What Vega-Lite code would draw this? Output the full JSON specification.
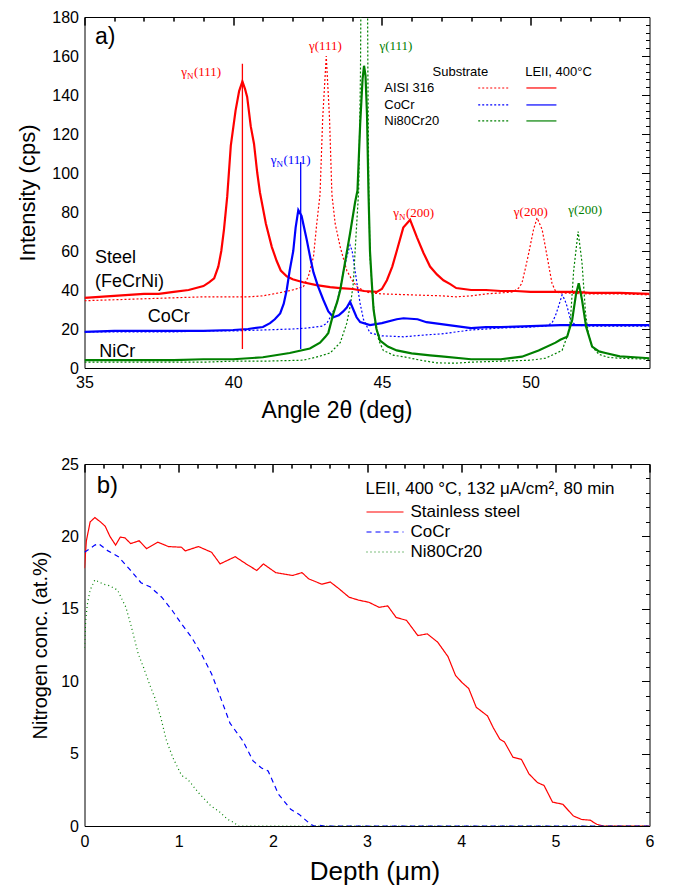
{
"$schema": "https://vega.github.io/schema/vega-lite/v6.json",
"background": "white",
"padding": {"left": 15.5, "top": 8, "right": 5, "bottom": 3},
"spacing": 32,
"config": {
 "font": "Liberation Sans",
 "view": {"stroke": "#000", "strokeWidth": 1},
 "axis": {"grid": false, "domain": false, "labelFont": "Liberation Sans", "titleFont": "Liberation Sans", "labelColor": "#000", "titleColor": "#000", "tickColor": "#000", "tickWidth": 1, "titleFontWeight": "normal", "labelFlush": false}
},
"datasets": {
 "asub": [
  {"m":"AISI 316","t":35,"i":34.5},{"m":"AISI 316","t":36,"i":35},{"m":"AISI 316","t":37,"i":35.5},{"m":"AISI 316","t":38,"i":36},{"m":"AISI 316","t":39,"i":36.5},{"m":"AISI 316","t":40,"i":36.5},{"m":"AISI 316","t":40.5,"i":36.5},{"m":"AISI 316","t":41,"i":37},{"m":"AISI 316","t":41.7,"i":39},{"m":"AISI 316","t":42,"i":40},{"m":"AISI 316","t":42.36,"i":41.7},{"m":"AISI 316","t":42.53,"i":47},{"m":"AISI 316","t":42.7,"i":57},{"m":"AISI 316","t":42.81,"i":74},{"m":"AISI 316","t":42.92,"i":89},{"m":"AISI 316","t":43.01,"i":128},{"m":"AISI 316","t":43.13,"i":160},{"m":"AISI 316","t":43.24,"i":128},{"m":"AISI 316","t":43.32,"i":89},{"m":"AISI 316","t":43.43,"i":74},{"m":"AISI 316","t":43.6,"i":62},{"m":"AISI 316","t":43.82,"i":50},{"m":"AISI 316","t":44.0,"i":45},{"m":"AISI 316","t":44.16,"i":41.7},{"m":"AISI 316","t":44.4,"i":39.5},{"m":"AISI 316","t":44.6,"i":38.5},{"m":"AISI 316","t":45,"i":38},{"m":"AISI 316","t":46,"i":37.5},{"m":"AISI 316","t":47,"i":37},{"m":"AISI 316","t":47.5,"i":36.5},{"m":"AISI 316","t":48,"i":37},{"m":"AISI 316","t":48.5,"i":38},{"m":"AISI 316","t":49,"i":38.5},{"m":"AISI 316","t":49.4,"i":39},{"m":"AISI 316","t":49.6,"i":41},{"m":"AISI 316","t":49.71,"i":43.5},{"m":"AISI 316","t":49.84,"i":52},{"m":"AISI 316","t":49.94,"i":59},{"m":"AISI 316","t":50.1,"i":71},{"m":"AISI 316","t":50.22,"i":77},{"m":"AISI 316","t":50.39,"i":71},{"m":"AISI 316","t":50.56,"i":57},{"m":"AISI 316","t":50.72,"i":43.5},{"m":"AISI 316","t":50.85,"i":39},{"m":"AISI 316","t":51,"i":38.5},{"m":"AISI 316","t":52,"i":38},{"m":"AISI 316","t":53,"i":38},{"m":"AISI 316","t":54,"i":37.5},
  {"m":"CoCr","t":35,"i":18.5},{"m":"CoCr","t":36,"i":18.5},{"m":"CoCr","t":37,"i":18.5},{"m":"CoCr","t":38,"i":18.5},{"m":"CoCr","t":39,"i":19},{"m":"CoCr","t":40,"i":19},{"m":"CoCr","t":41,"i":19.5},{"m":"CoCr","t":42,"i":20},{"m":"CoCr","t":42.5,"i":20.5},{"m":"CoCr","t":43,"i":21.5},{"m":"CoCr","t":43.15,"i":23},{"m":"CoCr","t":43.3,"i":27},{"m":"CoCr","t":43.48,"i":33},{"m":"CoCr","t":43.6,"i":41},{"m":"CoCr","t":43.7,"i":49},{"m":"CoCr","t":43.82,"i":57},{"m":"CoCr","t":43.93,"i":63},{"m":"CoCr","t":44.0,"i":60},{"m":"CoCr","t":44.08,"i":52},{"m":"CoCr","t":44.16,"i":43.5},{"m":"CoCr","t":44.27,"i":33},{"m":"CoCr","t":44.38,"i":25},{"m":"CoCr","t":44.6,"i":18},{"m":"CoCr","t":45,"i":16.5},{"m":"CoCr","t":45.73,"i":16},{"m":"CoCr","t":46.5,"i":17},{"m":"CoCr","t":47,"i":17.5},{"m":"CoCr","t":48,"i":19.5},{"m":"CoCr","t":49,"i":20.5},{"m":"CoCr","t":50,"i":21},{"m":"CoCr","t":50.5,"i":21.5},{"m":"CoCr","t":50.72,"i":23},{"m":"CoCr","t":50.84,"i":27},{"m":"CoCr","t":50.95,"i":32},{"m":"CoCr","t":51.06,"i":37.5},{"m":"CoCr","t":51.15,"i":35},{"m":"CoCr","t":51.23,"i":31.5},{"m":"CoCr","t":51.34,"i":25},{"m":"CoCr","t":51.5,"i":22},{"m":"CoCr","t":52,"i":21.5},{"m":"CoCr","t":53,"i":21.5},{"m":"CoCr","t":54,"i":21.5},
  {"m":"Ni80Cr20","t":35,"i":3},{"m":"Ni80Cr20","t":36,"i":3},{"m":"Ni80Cr20","t":37,"i":3},{"m":"Ni80Cr20","t":38,"i":3},{"m":"Ni80Cr20","t":39,"i":3},{"m":"Ni80Cr20","t":40,"i":3.5},{"m":"Ni80Cr20","t":41,"i":3.5},{"m":"Ni80Cr20","t":42.36,"i":4},{"m":"Ni80Cr20","t":42.9,"i":6},{"m":"Ni80Cr20","t":43.26,"i":7.7},{"m":"Ni80Cr20","t":43.6,"i":13},{"m":"Ni80Cr20","t":43.82,"i":23},{"m":"Ni80Cr20","t":43.95,"i":33},{"m":"Ni80Cr20","t":44.04,"i":43.5},{"m":"Ni80Cr20","t":44.1,"i":60},{"m":"Ni80Cr20","t":44.22,"i":91},{"m":"Ni80Cr20","t":44.28,"i":150},{"m":"Ni80Cr20","t":44.32,"i":250},{"m":"Ni80Cr20","t":44.41,"i":400},{"m":"Ni80Cr20","t":44.5,"i":250},{"m":"Ni80Cr20","t":44.53,"i":150},{"m":"Ni80Cr20","t":44.56,"i":91},{"m":"Ni80Cr20","t":44.6,"i":57},{"m":"Ni80Cr20","t":44.68,"i":40},{"m":"Ni80Cr20","t":44.77,"i":23},{"m":"Ni80Cr20","t":44.9,"i":14},{"m":"Ni80Cr20","t":45.05,"i":9},{"m":"Ni80Cr20","t":45.4,"i":6.5},{"m":"Ni80Cr20","t":45.72,"i":5.8},{"m":"Ni80Cr20","t":46.3,"i":4},{"m":"Ni80Cr20","t":46.85,"i":2.6},{"m":"Ni80Cr20","t":47.5,"i":2.5},{"m":"Ni80Cr20","t":48,"i":3},{"m":"Ni80Cr20","t":49,"i":3.5},{"m":"Ni80Cr20","t":50,"i":4},{"m":"Ni80Cr20","t":50.5,"i":5},{"m":"Ni80Cr20","t":51.06,"i":9},{"m":"Ni80Cr20","t":51.25,"i":17},{"m":"Ni80Cr20","t":51.34,"i":24.6},{"m":"Ni80Cr20","t":51.45,"i":50},{"m":"Ni80Cr20","t":51.6,"i":70},{"m":"Ni80Cr20","t":51.73,"i":54},{"m":"Ni80Cr20","t":51.85,"i":28},{"m":"Ni80Cr20","t":51.95,"i":17},{"m":"Ni80Cr20","t":52.07,"i":11},{"m":"Ni80Cr20","t":52.3,"i":7},{"m":"Ni80Cr20","t":52.6,"i":5.5},{"m":"Ni80Cr20","t":53,"i":5},{"m":"Ni80Cr20","t":54,"i":4.5}
 ],
 "aleii": [
  {"m":"AISI 316","t":35,"i":36},{"m":"AISI 316","t":35.5,"i":36.5},{"m":"AISI 316","t":36,"i":37},{"m":"AISI 316","t":36.5,"i":37.5},{"m":"AISI 316","t":37,"i":38},{"m":"AISI 316","t":37.5,"i":38},{"m":"AISI 316","t":38,"i":39},{"m":"AISI 316","t":38.5,"i":40},{"m":"AISI 316","t":39,"i":42},{"m":"AISI 316","t":39.2,"i":44},{"m":"AISI 316","t":39.36,"i":46},{"m":"AISI 316","t":39.5,"i":52},{"m":"AISI 316","t":39.6,"i":60},{"m":"AISI 316","t":39.69,"i":71},{"m":"AISI 316","t":39.8,"i":88},{"m":"AISI 316","t":39.92,"i":114},{"m":"AISI 316","t":40.08,"i":132},{"m":"AISI 316","t":40.2,"i":142},{"m":"AISI 316","t":40.31,"i":147},{"m":"AISI 316","t":40.4,"i":143},{"m":"AISI 316","t":40.47,"i":139},{"m":"AISI 316","t":40.59,"i":124},{"m":"AISI 316","t":40.7,"i":115},{"m":"AISI 316","t":40.81,"i":100},{"m":"AISI 316","t":40.9,"i":90},{"m":"AISI 316","t":41.1,"i":74},{"m":"AISI 316","t":41.3,"i":62},{"m":"AISI 316","t":41.46,"i":55},{"m":"AISI 316","t":41.6,"i":50},{"m":"AISI 316","t":41.8,"i":47},{"m":"AISI 316","t":42.0,"i":45.5},{"m":"AISI 316","t":42.35,"i":44},{"m":"AISI 316","t":42.8,"i":42.5},{"m":"AISI 316","t":43.26,"i":41.5},{"m":"AISI 316","t":43.6,"i":41},{"m":"AISI 316","t":44.03,"i":40.5},{"m":"AISI 316","t":44.4,"i":39.5},{"m":"AISI 316","t":44.83,"i":39},{"m":"AISI 316","t":45.0,"i":40.5},{"m":"AISI 316","t":45.17,"i":45},{"m":"AISI 316","t":45.35,"i":52},{"m":"AISI 316","t":45.5,"i":60},{"m":"AISI 316","t":45.72,"i":72},{"m":"AISI 316","t":45.95,"i":76},{"m":"AISI 316","t":46.18,"i":67},{"m":"AISI 316","t":46.4,"i":59},{"m":"AISI 316","t":46.62,"i":52},{"m":"AISI 316","t":46.85,"i":48},{"m":"AISI 316","t":47.07,"i":45},{"m":"AISI 316","t":47.3,"i":43},{"m":"AISI 316","t":47.5,"i":41},{"m":"AISI 316","t":48,"i":40},{"m":"AISI 316","t":48.5,"i":40},{"m":"AISI 316","t":49,"i":39.5},{"m":"AISI 316","t":49.5,"i":39.5},{"m":"AISI 316","t":50,"i":39},{"m":"AISI 316","t":50.5,"i":39},{"m":"AISI 316","t":51,"i":39},{"m":"AISI 316","t":51.5,"i":39},{"m":"AISI 316","t":52,"i":38.5},{"m":"AISI 316","t":53,"i":38.5},{"m":"AISI 316","t":54,"i":38},
  {"m":"CoCr","t":35,"i":18.5},{"m":"CoCr","t":36,"i":19},{"m":"CoCr","t":37,"i":19},{"m":"CoCr","t":38,"i":19},{"m":"CoCr","t":39,"i":19},{"m":"CoCr","t":40,"i":19.5},{"m":"CoCr","t":40.5,"i":20},{"m":"CoCr","t":41,"i":21},{"m":"CoCr","t":41.24,"i":23},{"m":"CoCr","t":41.4,"i":25},{"m":"CoCr","t":41.58,"i":28},{"m":"CoCr","t":41.7,"i":33},{"m":"CoCr","t":41.8,"i":40},{"m":"CoCr","t":41.9,"i":50},{"m":"CoCr","t":42.02,"i":60},{"m":"CoCr","t":42.1,"i":72},{"m":"CoCr","t":42.19,"i":81},{"m":"CoCr","t":42.3,"i":78},{"m":"CoCr","t":42.47,"i":66},{"m":"CoCr","t":42.6,"i":56},{"m":"CoCr","t":42.7,"i":49},{"m":"CoCr","t":42.85,"i":42},{"m":"CoCr","t":43.03,"i":35},{"m":"CoCr","t":43.2,"i":29},{"m":"CoCr","t":43.37,"i":26},{"m":"CoCr","t":43.55,"i":27},{"m":"CoCr","t":43.7,"i":29},{"m":"CoCr","t":43.82,"i":31},{"m":"CoCr","t":43.93,"i":34},{"m":"CoCr","t":44.04,"i":30},{"m":"CoCr","t":44.15,"i":26},{"m":"CoCr","t":44.27,"i":23.5},{"m":"CoCr","t":44.6,"i":22},{"m":"CoCr","t":45,"i":23},{"m":"CoCr","t":45.5,"i":25},{"m":"CoCr","t":45.73,"i":25.5},{"m":"CoCr","t":46.2,"i":25},{"m":"CoCr","t":46.5,"i":23.5},{"m":"CoCr","t":47,"i":22.5},{"m":"CoCr","t":47.5,"i":21.5},{"m":"CoCr","t":48,"i":20.5},{"m":"CoCr","t":48.5,"i":21},{"m":"CoCr","t":49,"i":21},{"m":"CoCr","t":50,"i":21.5},{"m":"CoCr","t":51,"i":22},{"m":"CoCr","t":52,"i":22},{"m":"CoCr","t":53,"i":22},{"m":"CoCr","t":54,"i":22},
  {"m":"Ni80Cr20","t":35,"i":4},{"m":"Ni80Cr20","t":36,"i":4},{"m":"Ni80Cr20","t":37,"i":4},{"m":"Ni80Cr20","t":38,"i":4},{"m":"Ni80Cr20","t":39,"i":4.5},{"m":"Ni80Cr20","t":40,"i":4.5},{"m":"Ni80Cr20","t":41,"i":5.5},{"m":"Ni80Cr20","t":41.9,"i":7.7},{"m":"Ni80Cr20","t":42.58,"i":10},{"m":"Ni80Cr20","t":42.92,"i":13},{"m":"Ni80Cr20","t":43.1,"i":16},{"m":"Ni80Cr20","t":43.2,"i":18},{"m":"Ni80Cr20","t":43.37,"i":28},{"m":"Ni80Cr20","t":43.5,"i":34},{"m":"Ni80Cr20","t":43.6,"i":40},{"m":"Ni80Cr20","t":43.76,"i":54},{"m":"Ni80Cr20","t":43.93,"i":69},{"m":"Ni80Cr20","t":44.1,"i":85},{"m":"Ni80Cr20","t":44.18,"i":91},{"m":"Ni80Cr20","t":44.27,"i":125},{"m":"Ni80Cr20","t":44.35,"i":148},{"m":"Ni80Cr20","t":44.4,"i":155},{"m":"Ni80Cr20","t":44.45,"i":150},{"m":"Ni80Cr20","t":44.5,"i":130},{"m":"Ni80Cr20","t":44.55,"i":90},{"m":"Ni80Cr20","t":44.6,"i":60},{"m":"Ni80Cr20","t":44.66,"i":44},{"m":"Ni80Cr20","t":44.72,"i":30},{"m":"Ni80Cr20","t":44.82,"i":20},{"m":"Ni80Cr20","t":44.94,"i":14},{"m":"Ni80Cr20","t":45.2,"i":11},{"m":"Ni80Cr20","t":45.5,"i":9},{"m":"Ni80Cr20","t":46,"i":7.5},{"m":"Ni80Cr20","t":46.62,"i":6.5},{"m":"Ni80Cr20","t":47,"i":6},{"m":"Ni80Cr20","t":48,"i":4.5},{"m":"Ni80Cr20","t":49,"i":4.5},{"m":"Ni80Cr20","t":49.71,"i":5.8},{"m":"Ni80Cr20","t":50.27,"i":9},{"m":"Ni80Cr20","t":50.84,"i":13},{"m":"Ni80Cr20","t":51.0,"i":14.5},{"m":"Ni80Cr20","t":51.23,"i":16},{"m":"Ni80Cr20","t":51.4,"i":24.6},{"m":"Ni80Cr20","t":51.53,"i":38},{"m":"Ni80Cr20","t":51.62,"i":43.5},{"m":"Ni80Cr20","t":51.73,"i":35},{"m":"Ni80Cr20","t":51.87,"i":21},{"m":"Ni80Cr20","t":52.07,"i":11},{"m":"Ni80Cr20","t":52.3,"i":8.5},{"m":"Ni80Cr20","t":52.52,"i":7.7},{"m":"Ni80Cr20","t":53,"i":6},{"m":"Ni80Cr20","t":53.5,"i":5.5},{"m":"Ni80Cr20","t":54,"i":5}
 ],
 "arule": [{"m":"AISI 316","t":40.31,"lo":9.7,"hi":156},{"m":"CoCr","t":42.27,"lo":9.7,"hi":105.6}],
 "apeak": [
  {"m":"AISI 316","t":38.68,"i":151.8,"n":"N","hkl":"(111)"},
  {"m":"CoCr","t":41.69,"i":106.5,"n":"N","hkl":"(111)"},
  {"m":"AISI 316","t":45.81,"i":79.6,"n":"N","hkl":"(200)"},
  {"m":"AISI 316","t":42.74,"i":165,"n":"","hkl":"(111)"},
  {"m":"Ni80Cr20","t":45.11,"i":165,"n":"","hkl":"(111)"},
  {"m":"AISI 316","t":49.63,"i":79.8,"n":"","hkl":"(200)"},
  {"m":"Ni80Cr20","t":51.46,"i":81,"n":"","hkl":"(200)"}
 ],
 "anote": [
  {"t":35.35,"i":56.4,"txt":"Steel"},{"t":35.35,"i":44,"txt":"(FeCrNi)"},{"t":37.13,"i":26,"txt":"CoCr"},{"t":35.5,"i":8.2,"txt":"NiCr"}
 ],
 "alegh": [{"t":47.64,"i":151.8,"txt":"Substrate"},{"t":50.94,"i":151.8,"txt":"LEII, 400°C"}],
 "alegn": [{"t":45.08,"i":143.6,"txt":"AISI 316"},{"t":45.08,"i":134.9,"txt":"CoCr"},{"t":45.08,"i":126.7,"txt":"Ni80Cr20"}],
 "alegs": [
  {"m":"AISI 316","k":"sub","t":48.24,"t2":49.25,"i":143.6},{"m":"CoCr","k":"sub","t":48.24,"t2":49.25,"i":134.9},{"m":"Ni80Cr20","k":"sub","t":48.24,"t2":49.25,"i":126.7},
  {"m":"AISI 316","k":"leii","t":49.86,"t2":50.87,"i":143.6},{"m":"CoCr","k":"leii","t":49.86,"t2":50.87,"i":134.9},{"m":"Ni80Cr20","k":"leii","t":49.86,"t2":50.87,"i":126.7}
 ],
 "b": [
  {"s":"Stainless steel","d":0,"n":17.8},{"s":"Stainless steel","d":0.02,"n":19.7},{"s":"Stainless steel","d":0.06,"n":21.0},{"s":"Stainless steel","d":0.11,"n":21.3},{"s":"Stainless steel","d":0.17,"n":21.0},{"s":"Stainless steel","d":0.22,"n":20.7},{"s":"Stainless steel","d":0.27,"n":20.0},{"s":"Stainless steel","d":0.33,"n":19.4},{"s":"Stainless steel","d":0.38,"n":19.95},{"s":"Stainless steel","d":0.43,"n":19.9},{"s":"Stainless steel","d":0.49,"n":19.5},{"s":"Stainless steel","d":0.58,"n":19.7},{"s":"Stainless steel","d":0.66,"n":19.15},{"s":"Stainless steel","d":0.78,"n":19.6},{"s":"Stainless steel","d":0.89,"n":19.3},{"s":"Stainless steel","d":1.03,"n":19.25},{"s":"Stainless steel","d":1.07,"n":19.0},{"s":"Stainless steel","d":1.21,"n":19.3},{"s":"Stainless steel","d":1.35,"n":18.9},{"s":"Stainless steel","d":1.44,"n":18.1},{"s":"Stainless steel","d":1.6,"n":18.6},{"s":"Stainless steel","d":1.74,"n":18.0},{"s":"Stainless steel","d":1.83,"n":17.65},{"s":"Stainless steel","d":1.9,"n":18.1},{"s":"Stainless steel","d":2.03,"n":17.5},{"s":"Stainless steel","d":2.21,"n":17.3},{"s":"Stainless steel","d":2.31,"n":17.5},{"s":"Stainless steel","d":2.38,"n":17.07},{"s":"Stainless steel","d":2.52,"n":16.7},{"s":"Stainless steel","d":2.61,"n":16.85},{"s":"Stainless steel","d":2.7,"n":16.4},{"s":"Stainless steel","d":2.81,"n":15.8},{"s":"Stainless steel","d":2.91,"n":15.6},{"s":"Stainless steel","d":3.02,"n":15.45},{"s":"Stainless steel","d":3.13,"n":15.1},{"s":"Stainless steel","d":3.22,"n":15.2},{"s":"Stainless steel","d":3.31,"n":14.4},{"s":"Stainless steel","d":3.42,"n":14.2},{"s":"Stainless steel","d":3.54,"n":13.15},{"s":"Stainless steel","d":3.64,"n":13.27},{"s":"Stainless steel","d":3.75,"n":12.7},{"s":"Stainless steel","d":3.86,"n":11.7},{"s":"Stainless steel","d":3.94,"n":10.4},{"s":"Stainless steel","d":4.01,"n":9.9},{"s":"Stainless steel","d":4.08,"n":9.5},{"s":"Stainless steel","d":4.16,"n":8.2},{"s":"Stainless steel","d":4.28,"n":7.6},{"s":"Stainless steel","d":4.34,"n":6.8},{"s":"Stainless steel","d":4.41,"n":6.0},{"s":"Stainless steel","d":4.46,"n":5.8},{"s":"Stainless steel","d":4.55,"n":4.75},{"s":"Stainless steel","d":4.64,"n":4.6},{"s":"Stainless steel","d":4.72,"n":3.6},{"s":"Stainless steel","d":4.81,"n":3.0},{"s":"Stainless steel","d":4.88,"n":2.8},{"s":"Stainless steel","d":4.97,"n":1.65},{"s":"Stainless steel","d":5.08,"n":1.5},{"s":"Stainless steel","d":5.19,"n":0.7},{"s":"Stainless steel","d":5.28,"n":0.45},{"s":"Stainless steel","d":5.37,"n":0.4},{"s":"Stainless steel","d":5.44,"n":0.12},{"s":"Stainless steel","d":5.51,"n":0},{"s":"Stainless steel","d":6.0,"n":0},
  {"s":"CoCr","d":0,"n":18.9},{"s":"CoCr","d":0.11,"n":19.4},{"s":"CoCr","d":0.15,"n":19.5},{"s":"CoCr","d":0.25,"n":19.0},{"s":"CoCr","d":0.36,"n":18.6},{"s":"CoCr","d":0.49,"n":17.65},{"s":"CoCr","d":0.6,"n":16.8},{"s":"CoCr","d":0.7,"n":16.5},{"s":"CoCr","d":0.82,"n":15.8},{"s":"CoCr","d":0.93,"n":14.9},{"s":"CoCr","d":1.03,"n":13.96},{"s":"CoCr","d":1.14,"n":13.0},{"s":"CoCr","d":1.24,"n":11.9},{"s":"CoCr","d":1.35,"n":10.5},{"s":"CoCr","d":1.42,"n":9.3},{"s":"CoCr","d":1.545,"n":7.1},{"s":"CoCr","d":1.68,"n":5.9},{"s":"CoCr","d":1.79,"n":4.5},{"s":"CoCr","d":1.88,"n":4.0},{"s":"CoCr","d":1.95,"n":3.8},{"s":"CoCr","d":2.06,"n":2.2},{"s":"CoCr","d":2.19,"n":1.15},{"s":"CoCr","d":2.28,"n":0.8},{"s":"CoCr","d":2.4,"n":0.12},{"s":"CoCr","d":2.44,"n":0},{"s":"CoCr","d":2.5,"n":0.05},{"s":"CoCr","d":2.55,"n":0},{"s":"CoCr","d":6.0,"n":0},
  {"s":"Ni80Cr20","d":0,"n":12.3},{"s":"Ni80Cr20","d":0.013,"n":14.2},{"s":"Ni80Cr20","d":0.03,"n":15.3},{"s":"Ni80Cr20","d":0.06,"n":16.3},{"s":"Ni80Cr20","d":0.11,"n":17.0},{"s":"Ni80Cr20","d":0.2,"n":16.7},{"s":"Ni80Cr20","d":0.26,"n":16.6},{"s":"Ni80Cr20","d":0.35,"n":16.3},{"s":"Ni80Cr20","d":0.44,"n":15.1},{"s":"Ni80Cr20","d":0.5,"n":13.7},{"s":"Ni80Cr20","d":0.57,"n":11.9},{"s":"Ni80Cr20","d":0.63,"n":10.9},{"s":"Ni80Cr20","d":0.69,"n":9.8},{"s":"Ni80Cr20","d":0.75,"n":8.8},{"s":"Ni80Cr20","d":0.81,"n":7.5},{"s":"Ni80Cr20","d":0.87,"n":5.9},{"s":"Ni80Cr20","d":0.94,"n":4.7},{"s":"Ni80Cr20","d":1.03,"n":3.5},{"s":"Ni80Cr20","d":1.1,"n":3.2},{"s":"Ni80Cr20","d":1.21,"n":2.3},{"s":"Ni80Cr20","d":1.34,"n":1.4},{"s":"Ni80Cr20","d":1.43,"n":1.0},{"s":"Ni80Cr20","d":1.52,"n":0.46},{"s":"Ni80Cr20","d":1.59,"n":0.23},{"s":"Ni80Cr20","d":1.63,"n":0},{"s":"Ni80Cr20","d":6.0,"n":0}
 ]
},
"vconcat": [
 {
  "width": 565, "height": 351,
  "resolve": {"axis": {"x": "independent", "y": "independent"}},
  "layer": [
   {"data": {"name": "asub"},
    "mark": {"type": "line", "strokeDash": [2, 2], "strokeWidth": 1.2, "clip": true},
    "encoding": {
     "x": {"field": "t", "type": "quantitative", "scale": {"domain": [35, 54], "nice": false, "zero": false},
       "axis": {"values": [35, 40, 45, 50], "ticks": false, "labelPadding": 6, "labelFontSize": 16, "title": "Angle 2θ (deg)", "titleFontSize": 23, "titlePadding": 9, "titleX": 252}},
     "y": {"field": "i", "type": "quantitative", "scale": {"domain": [0, 180], "nice": false},
       "axis": {"values": [0, 20, 40, 60, 80, 100, 120, 140, 160, 180], "ticks": false, "labelPadding": 6, "labelFontSize": 16, "title": "Intensity (cps)", "titleFontSize": 22, "titlePadding": 12}},
     "color": {"field": "m", "type": "nominal", "scale": {"domain": ["AISI 316", "CoCr", "Ni80Cr20"], "range": ["#ff0000", "#0000ff", "#008000"]}, "legend": null},
     "detail": {"field": "m"}
    }
   },
   {"data": {"name": "aleii"},
    "mark": {"type": "line", "strokeWidth": 2.2, "clip": true},
    "encoding": {
     "x": {"field": "t", "type": "quantitative", "scale": {"domain": [35, 54], "nice": false, "zero": false},
       "axis": {"values": [35, 40, 45, 50], "labels": false, "tickSize": -8, "title": null}},
     "y": {"field": "i", "type": "quantitative", "scale": {"domain": [0, 180], "nice": false},
       "axis": {"values": [0, 20, 40, 60, 80, 100, 120, 140, 160, 180], "labels": false, "tickSize": -8, "title": null}},
     "color": {"field": "m", "type": "nominal", "legend": null}
    }
   },
   {"data": {"name": "arule"},
    "mark": {"type": "rule", "strokeWidth": 1.3},
    "encoding": {
     "x": {"field": "t", "type": "quantitative",
       "axis": {"values": [36, 37, 38, 39, 41, 42, 43, 44, 46, 47, 48, 49, 51, 52, 53], "labels": false, "tickSize": -4, "title": null}},
     "y": {"field": "lo", "type": "quantitative",
       "axis": {"values": [4, 8, 12, 16, 24, 28, 32, 36, 44, 48, 52, 56, 64, 68, 72, 76, 84, 88, 92, 96, 104, 108, 112, 116, 124, 128, 132, 136, 144, 148, 152, 156, 164, 168, 172, 176], "labels": false, "tickSize": -4, "title": null}},
     "y2": {"field": "hi"},
     "color": {"field": "m", "type": "nominal", "legend": null}
    }
   },
   {"data": {"name": "apeak"},
    "mark": {"type": "text", "align": "left", "baseline": "middle", "font": "Liberation Serif", "fontSize": 13},
    "encoding": {
     "x": {"field": "t", "type": "quantitative",
       "axis": {"orient": "top", "values": [35, 40, 45, 50], "labels": false, "tickSize": -8, "title": null}},
     "y": {"field": "i", "type": "quantitative",
       "axis": {"orient": "right", "values": [0, 20, 40, 60, 80, 100, 120, 140, 160, 180], "labels": false, "tickSize": -8, "title": null}},
     "text": {"field": "hkl"},
     "color": {"field": "m", "type": "nominal", "legend": null}
    }
   },
   {"data": {"name": "apeak"},
    "transform": [{"filter": "datum.n == 'N'"}],
    "mark": {"type": "text", "align": "right", "baseline": "middle", "font": "Liberation Serif", "fontSize": 13, "dx": -7},
    "encoding": {
     "x": {"field": "t", "type": "quantitative",
       "axis": {"orient": "top", "values": [36, 37, 38, 39, 41, 42, 43, 44, 46, 47, 48, 49, 51, 52, 53], "labels": false, "tickSize": -4, "title": null}},
     "y": {"field": "i", "type": "quantitative",
       "axis": {"orient": "right", "values": [4, 8, 12, 16, 24, 28, 32, 36, 44, 48, 52, 56, 64, 68, 72, 76, 84, 88, 92, 96, 104, 108, 112, 116, 124, 128, 132, 136, 144, 148, 152, 156, 164, 168, 172, 176], "labels": false, "tickSize": -4, "title": null}},
     "text": {"value": "γ"},
     "color": {"field": "m", "type": "nominal", "legend": null}
    }
   },
   {"data": {"name": "apeak"},
    "transform": [{"filter": "datum.n == 'N'"}],
    "mark": {"type": "text", "align": "right", "baseline": "middle", "font": "Liberation Serif", "fontSize": 9, "dx": -0.5, "dy": 4},
    "encoding": {
     "x": {"field": "t", "type": "quantitative", "axis": null},
     "y": {"field": "i", "type": "quantitative", "axis": null},
     "text": {"value": "N"},
     "color": {"field": "m", "type": "nominal", "legend": null}
    }
   },
   {"data": {"name": "apeak"},
    "transform": [{"filter": "datum.n == ''"}],
    "mark": {"type": "text", "align": "right", "baseline": "middle", "font": "Liberation Serif", "fontSize": 13},
    "encoding": {
     "x": {"field": "t", "type": "quantitative", "axis": null},
     "y": {"field": "i", "type": "quantitative", "axis": null},
     "text": {"value": "γ"},
     "color": {"field": "m", "type": "nominal", "legend": null}
    }
   },
   {"data": {"name": "anote"},
    "mark": {"type": "text", "align": "left", "baseline": "middle", "fontSize": 18, "font": "Liberation Sans", "color": "#000"},
    "encoding": {
     "x": {"field": "t", "type": "quantitative", "axis": null},
     "y": {"field": "i", "type": "quantitative", "axis": null},
     "text": {"field": "txt"}
    }
   },
   {"data": {"values": [{}]},
    "mark": {"type": "text", "align": "left", "baseline": "middle", "fontSize": 23, "font": "Liberation Sans", "color": "#000"},
    "encoding": {
     "x": {"datum": 35.35, "type": "quantitative", "axis": null},
     "y": {"datum": 170, "type": "quantitative", "axis": null},
     "text": {"value": "a)"}
    }
   },
   {"data": {"name": "alegh"},
    "mark": {"type": "text", "align": "center", "baseline": "middle", "fontSize": 13, "font": "Liberation Sans", "color": "#000"},
    "encoding": {
     "x": {"field": "t", "type": "quantitative", "axis": null},
     "y": {"field": "i", "type": "quantitative", "axis": null},
     "text": {"field": "txt"}
    }
   },
   {"data": {"name": "alegn"},
    "mark": {"type": "text", "align": "left", "baseline": "middle", "fontSize": 13, "font": "Liberation Sans", "color": "#000"},
    "encoding": {
     "x": {"field": "t", "type": "quantitative", "axis": null},
     "y": {"field": "i", "type": "quantitative", "axis": null},
     "text": {"field": "txt"}
    }
   },
   {"data": {"name": "alegs"},
    "transform": [{"filter": "datum.k == 'sub'"}],
    "mark": {"type": "rule", "strokeDash": [2, 2], "strokeWidth": 1.2},
    "encoding": {
     "x": {"field": "t", "type": "quantitative", "axis": null},
     "x2": {"field": "t2"},
     "y": {"field": "i", "type": "quantitative", "axis": null},
     "color": {"field": "m", "type": "nominal", "legend": null}
    }
   },
   {"data": {"name": "alegs"},
    "transform": [{"filter": "datum.k == 'leii'"}],
    "mark": {"type": "rule", "strokeWidth": 1.2},
    "encoding": {
     "x": {"field": "t", "type": "quantitative", "axis": null},
     "x2": {"field": "t2"},
     "y": {"field": "i", "type": "quantitative", "axis": null},
     "color": {"field": "m", "type": "nominal", "legend": null}
    }
   }
  ]
 },
 {
  "width": 565, "height": 362,
  "resolve": {"axis": {"x": "independent", "y": "independent"}},
  "layer": [
   {"data": {"name": "b"},
    "mark": {"type": "line", "strokeWidth": 1.2, "clip": true},
    "encoding": {
     "x": {"field": "d", "type": "quantitative", "scale": {"domain": [0, 6], "nice": false},
       "axis": {"values": [0, 1, 2, 3, 4, 5, 6], "ticks": false, "labelPadding": 7, "labelFontSize": 16, "title": "Depth (μm)", "titleFontSize": 26, "titlePadding": 9, "titleX": 290}},
     "y": {"field": "n", "type": "quantitative", "scale": {"domain": [0, 25], "nice": false},
       "axis": {"values": [0, 5, 10, 15, 20, 25], "ticks": false, "labelPadding": 6, "labelFontSize": 16, "title": "Nitrogen conc. (at.%)", "titleFontSize": 20, "titlePadding": 10}},
     "color": {"field": "s", "type": "nominal",
       "scale": {"domain": ["Stainless steel", "CoCr", "Ni80Cr20"], "range": ["#ff0000", "#0000ff", "#008000"]},
       "legend": null},
     "strokeDash": {"field": "s", "type": "nominal", "title": "LEII, 400 °C, 132 μA/cm², 80 min",
       "scale": {"domain": ["Stainless steel", "CoCr", "Ni80Cr20"], "range": [[1, 0], [5, 4], [1, 3]]},
       "legend": {"orient": "none", "legendX": 281, "legendY": 464, "titleFontSize": 17, "titleFontWeight": "normal", "titleFont": "Liberation Sans", "titleColor": "#000", "titleLimit": 400, "labelLimit": 300, "labelFontSize": 17, "labelFont": "Liberation Sans", "labelColor": "#000", "symbolSize": 400, "symbolType": "M-1,0H2.7", "symbolStrokeWidth": 1.2, "labelOffset": 23, "rowPadding": 1, "titlePadding": 3,
         "encode": {"symbols": {"update": {"stroke": {"signal": "datum.value === 'Stainless steel' ? '#ff0000' : (datum.value === 'CoCr' ? '#0000ff' : '#008000')"}, "fill": {"value": "transparent"}}}}}}
    }
   },
   {"data": {"values": [{}]},
    "mark": {"type": "text", "align": "left", "baseline": "middle", "fontSize": 24, "font": "Liberation Sans", "color": "#000"},
    "encoding": {
     "x": {"datum": 0.13, "type": "quantitative", "axis": {"values": [0, 1, 2, 3, 4, 5, 6], "labels": false, "tickSize": -8, "title": null}},
     "y": {"datum": 23.45, "type": "quantitative", "axis": {"values": [0, 5, 10, 15, 20, 25], "labels": false, "tickSize": -8, "title": null}},
     "text": {"value": "b)"}
    }
   },
   {"data": {"values": []},
    "mark": "point",
    "encoding": {
     "x": {"field": "d", "type": "quantitative", "axis": {"values": [0.2, 0.4, 0.6, 0.8, 1.2, 1.4, 1.6, 1.8, 2.2, 2.4, 2.6, 2.8, 3.2, 3.4, 3.6, 3.8, 4.2, 4.4, 4.6, 4.8, 5.2, 5.4, 5.6, 5.8], "labels": false, "tickSize": -4, "title": null}},
     "y": {"field": "n", "type": "quantitative", "axis": {"values": [1, 2, 3, 4, 6, 7, 8, 9, 11, 12, 13, 14, 16, 17, 18, 19, 21, 22, 23, 24], "labels": false, "tickSize": -4, "title": null}}
    }
   },
   {"data": {"values": []},
    "mark": "point",
    "encoding": {
     "x": {"field": "d", "type": "quantitative", "axis": {"orient": "top", "values": [0, 1, 2, 3, 4, 5, 6], "labels": false, "tickSize": -8, "title": null}},
     "y": {"field": "n", "type": "quantitative", "axis": {"orient": "right", "values": [0, 5, 10, 15, 20, 25], "labels": false, "tickSize": -8, "title": null}}
    }
   },
   {"data": {"values": []},
    "mark": "point",
    "encoding": {
     "x": {"field": "d", "type": "quantitative", "axis": {"orient": "top", "values": [0.2, 0.4, 0.6, 0.8, 1.2, 1.4, 1.6, 1.8, 2.2, 2.4, 2.6, 2.8, 3.2, 3.4, 3.6, 3.8, 4.2, 4.4, 4.6, 4.8, 5.2, 5.4, 5.6, 5.8], "labels": false, "tickSize": -4, "title": null}},
     "y": {"field": "n", "type": "quantitative", "axis": {"orient": "right", "values": [1, 2, 3, 4, 6, 7, 8, 9, 11, 12, 13, 14, 16, 17, 18, 19, 21, 22, 23, 24], "labels": false, "tickSize": -4, "title": null}}
    }
   }
  ]
 }
]
}
